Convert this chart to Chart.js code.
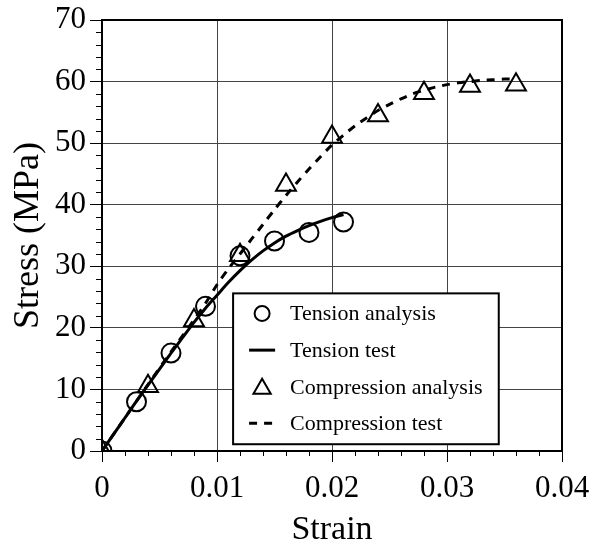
<!DOCTYPE html>
<html>
<head>
<meta charset="utf-8">
<script src="https://cdn.jsdelivr.net/npm/chart.js@4.4.1/dist/chart.umd.min.js"></script>
<style>
  html, body { margin: 0; padding: 0; background: #fff; }
  #wrap { width: 593px; height: 545px; }
</style>
</head>
<body>
<div id="wrap"><canvas id="c" width="593" height="545"></canvas></div>
<script>
// Stress-strain response: analysis points and test curves
const tensionAnalysisStrain = [0, 0.003, 0.006, 0.009, 0.012, 0.015, 0.018, 0.021];
const tensionAnalysisStress = [0, 8.0, 15.9, 23.5, 31.7, 34.1, 35.5, 37.2];

const tensionTestStrain = [0, 0.001, 0.002, 0.003, 0.004, 0.005, 0.006, 0.007, 0.008, 0.009, 0.010,
  0.011, 0.012, 0.013, 0.014, 0.015, 0.016, 0.017, 0.018, 0.019, 0.020, 0.021];
const tensionTestStress = [0, 2.7, 5.4, 8.1, 10.7, 13.3, 15.9, 18.4, 20.9, 23.2, 25.3,
  27.4, 29.3, 31.0, 32.5, 33.8, 34.9, 35.8, 36.6, 37.3, 37.9, 38.4];

const compressionAnalysisStrain = [0, 0.004, 0.008, 0.012, 0.016, 0.020, 0.024, 0.028, 0.032, 0.036];
const compressionAnalysisStress = [0, 10.5, 21.2, 31.8, 43.2, 51.0, 54.5, 58.1, 59.3, 59.5];

const compressionTestStrain = [0, 0.002, 0.004, 0.006, 0.008, 0.009, 0.010, 0.011, 0.012, 0.013, 0.014,
  0.015, 0.016, 0.017, 0.018, 0.019, 0.020, 0.021, 0.022, 0.023, 0.024, 0.025, 0.026, 0.027, 0.028,
  0.029, 0.030, 0.031, 0.032, 0.033, 0.034, 0.035, 0.036];
const compressionTestStress = [0, 5.4, 10.8, 16.1, 21.3, 24.0, 27.0, 29.6, 32.0, 34.4, 36.8,
  39.2, 41.5, 43.7, 45.8, 47.8, 49.7, 51.3, 52.8, 54.1, 55.3, 56.3, 57.2, 58.0, 58.6,
  59.1, 59.5, 59.8, 60.0, 60.2, 60.3, 60.4, 60.4];

// Axis ticks
const xTicks = [0, 0.01, 0.02, 0.03, 0.04];
const xTickLabels = ['0', '0.01', '0.02', '0.03', '0.04'];
const xMinorTicks = [0.002, 0.004, 0.006, 0.008, 0.012, 0.014, 0.016, 0.018, 0.022, 0.024, 0.026, 0.028,
  0.032, 0.034, 0.036, 0.038];
const yTicks = [0, 10, 20, 30, 40, 50, 60, 70];
const yTickLabels = ['0', '10', '20', '30', '40', '50', '60', '70'];
const yMinorTicks = [2, 4, 6, 8, 12, 14, 16, 18, 22, 24, 26, 28, 32, 34, 36, 38, 42, 44, 46, 48,
  52, 54, 56, 58, 62, 64, 66, 68];

const FONT = "'Liberation Serif', 'Times New Roman', serif";

function pts(xs, ys) { return xs.map((x, i) => ({ x: x, y: ys[i] })); }

// Minor ticks and the closed plot frame
const framePlugin = {
  id: 'frame',
  afterDraw(chart) {
    const ctx = chart.ctx, a = chart.chartArea;
    const xs = chart.scales.x, ys = chart.scales.y;
    ctx.save();
    ctx.strokeStyle = '#000';
    ctx.lineWidth = 1;
    ctx.beginPath();
    xMinorTicks.forEach(v => {
      const px = Math.round(xs.getPixelForValue(v)) + 0.5;
      ctx.moveTo(px, a.bottom); ctx.lineTo(px, a.bottom + 5);
    });
    yMinorTicks.forEach(v => {
      const py = Math.round(ys.getPixelForValue(v)) + 0.5;
      ctx.moveTo(a.left - 6, py); ctx.lineTo(a.left, py);
    });
    ctx.stroke();
    ctx.lineWidth = 2;
    ctx.strokeRect(a.left, a.top, a.right - a.left, a.bottom - a.top);
    ctx.restore();
  }
};

// Boxed legend placed inside the plot area
const boxLegendPlugin = {
  id: 'boxLegend',
  afterDraw(chart) {
    const ctx = chart.ctx;
    const xs = chart.scales.x, ys = chart.scales.y;
    const left = xs.getPixelForValue(0.0114), right = xs.getPixelForValue(0.0345);
    const top = ys.getPixelForValue(25.6), bottom = ys.getPixelForValue(1.1);
    ctx.save();
    ctx.fillStyle = '#fff';
    ctx.fillRect(left, top, right - left, bottom - top);
    ctx.strokeStyle = '#000';
    ctx.lineWidth = 2;
    ctx.strokeRect(left, top, right - left, bottom - top);
    const rowH = (bottom - top) / 4.12;
    const symX = left + 29, textX = left + 57;
    ctx.font = '22px ' + FONT;
    ctx.textBaseline = 'middle';
    ctx.textAlign = 'left';
    chart.data.datasets.forEach((ds, i) => {
      const cy = top + rowH * (i + 0.55);
      ctx.strokeStyle = '#000';
      if (ds.showLine) {
        ctx.lineWidth = 3;
        ctx.setLineDash(ds.borderDash || []);
        ctx.beginPath();
        ctx.moveTo(symX - 13, cy); ctx.lineTo(symX + 13, cy);
        ctx.stroke();
        ctx.setLineDash([]);
      } else {
        ctx.lineWidth = 2;
        ctx.fillStyle = 'rgba(0,0,0,0)';
        if (ds.pointStyle === 'triangle') {
          Chart.helpers.drawPoint(ctx, { pointStyle: 'triangle', radius: 10, rotation: 0, borderWidth: 2 }, symX, cy + 2);
        } else {
          ctx.beginPath();
          ctx.arc(symX, cy, 7.5, 0, Math.PI * 2);
          ctx.stroke();
        }
      }
      ctx.fillStyle = '#000';
      ctx.fillText(ds.label, textX, cy + 1);
    });
    ctx.restore();
  }
};

new Chart(document.getElementById('c'), {
  type: 'scatter',
  data: {
    datasets: [
      {
        label: 'Tension analysis',
        data: pts(tensionAnalysisStrain, tensionAnalysisStress),
        showLine: false,
        pointStyle: 'circle',
        pointRadius: 9.5,
        borderColor: '#000',
        backgroundColor: 'rgba(0,0,0,0)',
        pointBorderWidth: 2,
        order: 0
      },
      {
        label: 'Tension test',
        data: pts(tensionTestStrain, tensionTestStress),
        showLine: true,
        pointRadius: 0,
        borderColor: '#000',
        borderWidth: 3,
        tension: 0.3,
        order: 1
      },
      {
        label: 'Compression analysis',
        data: pts(compressionAnalysisStrain, compressionAnalysisStress),
        showLine: false,
        pointStyle: 'triangle',
        pointRadius: 11.5,
        borderColor: '#000',
        backgroundColor: 'rgba(0,0,0,0)',
        pointBorderWidth: 2,
        order: 0
      },
      {
        label: 'Compression test',
        data: pts(compressionTestStrain, compressionTestStress),
        showLine: true,
        pointRadius: 0,
        borderColor: '#000',
        borderWidth: 3,
        borderDash: [8, 7],
        tension: 0.3,
        order: 1
      }
    ]
  },
  options: {
    responsive: false,
    animation: false,
    layout: { padding: { left: 0, right: 31, top: 20, bottom: 0 } },
    plugins: { legend: { display: false }, tooltip: { enabled: false } },
    scales: {
      x: {
        type: 'linear',
        min: 0, max: 0.04,
        afterBuildTicks: s => { s.ticks = xTicks.map(v => ({ value: v })); },
        afterFit: s => { s.height = 94; s.paddingLeft = 0; s.paddingRight = 0; },
        ticks: {
          callback: (v, i) => xTickLabels[i],
          font: { family: FONT, size: 31 },
          color: '#000',
          padding: 8,
          maxRotation: 0,
          autoSkip: false
        },
        grid: { color: '#444', lineWidth: 1, tickLength: 11, tickColor: '#000', tickWidth: 1 },
        border: { display: true, color: '#000', width: 2 },
        title: {
          display: true,
          text: 'Strain',
          color: '#000',
          font: { family: FONT, size: 34, lineHeight: 0.9 },
          padding: { top: 0, bottom: 0 }
        }
      },
      y: {
        type: 'linear',
        min: 0, max: 70,
        afterBuildTicks: s => { s.ticks = yTicks.map(v => ({ value: v })); },
        afterFit: s => { s.width = 102; s.paddingTop = 0; s.paddingBottom = 0; },
        ticks: {
          callback: (v, i) => yTickLabels[i],
          font: { family: FONT, size: 31 },
          color: '#000',
          padding: 4,
          autoSkip: false
        },
        grid: { color: '#444', lineWidth: 1, tickLength: 12, tickColor: '#000', tickWidth: 1 },
        border: { display: true, color: '#000', width: 2 },
        title: {
          display: true,
          text: 'Stress (MPa)',
          color: '#000',
          font: { family: FONT, size: 36, lineHeight: 0.9 },
          padding: { top: 12, bottom: 0 }
        }
      }
    }
  },
  plugins: [framePlugin, boxLegendPlugin]
});
</script>
</body>
</html>
